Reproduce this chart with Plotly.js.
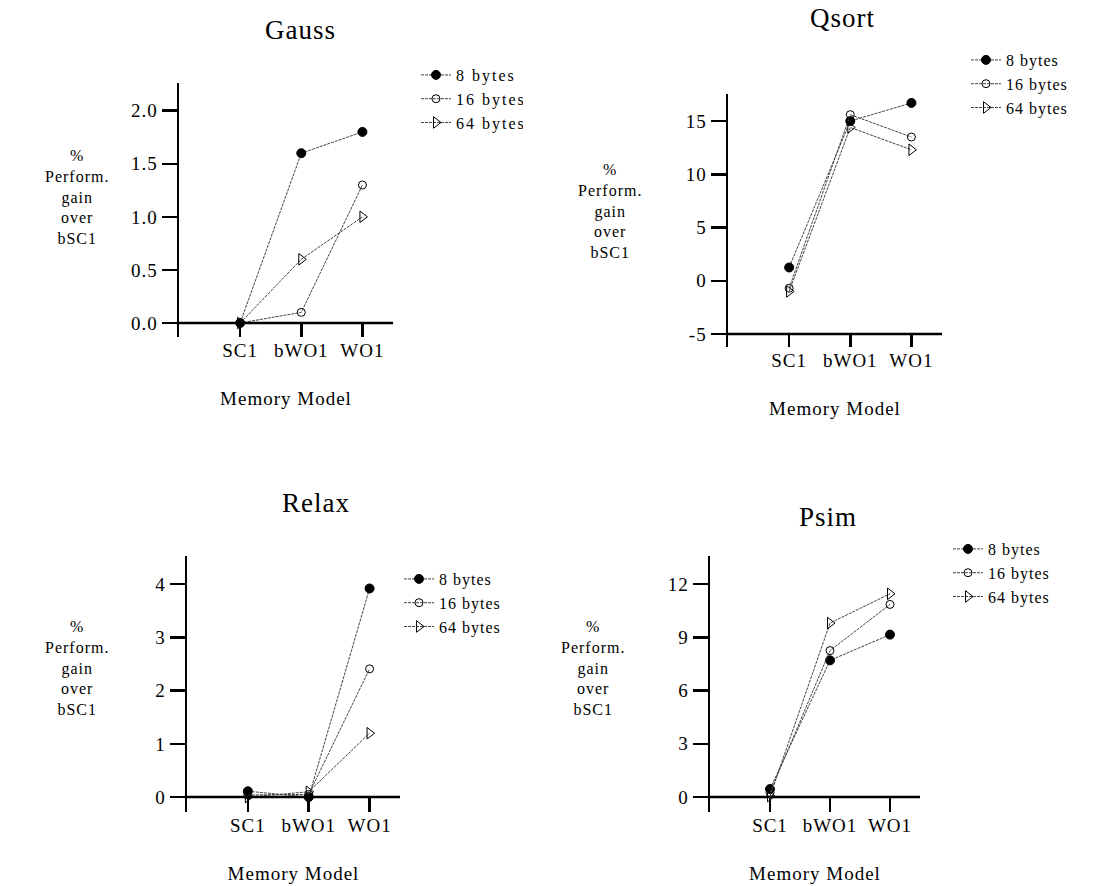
<!DOCTYPE html>
<html>
<head>
<meta charset="utf-8">
<script src="https://cdn.plot.ly/plotly-3.0.1.min.js"></script>
<style>
html,body{margin:0;padding:0;background:#fff;}
#chart{width:1108px;height:886px;}
svg text{letter-spacing:1px;}
.legend text{letter-spacing:2px;}
</style>
</head>
<body>
<div id="chart"></div>
<script>
// ---- data ----
const models = ["SC1", "bWO1", "WO1"];
const seriesNames = ["8 bytes", "16 bytes", "64 bytes"];

const gauss8  = [0.0, 1.6, 1.8];
const gauss16 = [0.0, 0.1, 1.3];
const gauss64 = [0.0, 0.6, 1.0];

const qsort8  = [1.25, 15.0, 16.7];
const qsort16 = [-0.7, 15.6, 13.5];
const qsort64 = [-1.0, 14.4, 12.3];

const relax8  = [0.11, 0.0, 3.92];
const relax16 = [0.04, 0.05, 2.41];
const relax64 = [0.0, 0.1, 1.2];

const psim8  = [0.45, 7.7, 9.15];
const psim16 = [0.25, 8.25, 10.85];
const psim64 = [0.05, 9.8, 11.45];

const gaussTicks = [0, 0.5, 1.0, 1.5, 2.0];
const gaussTickText = ["0.0", "0.5", "1.0", "1.5", "2.0"];
const qsortTicks = [-5, 0, 5, 10, 15];
const qsortTickText = ["-5", "0", "5", "10", "15"];
const relaxTicks = [0, 1, 2, 3, 4];
const relaxTickText = ["0", "1", "2", "3", "4"];
const psimTicks = [0, 3, 6, 9, 12];
const psimTickText = ["0", "3", "6", "9", "12"];

const panelTitles = ["Gauss", "Qsort", "Relax", "Psim"];
const yTitle = "%<br>Perform.<br>gain<br>over<br>bSC1";
const xTitle = "Memory Model";

// ---- layout helpers ----
const W = 1108, H = 886;
const FONT = "Liberation Serif";
const px = v => v / W;
const py = v => 1 - v / H;

const panels = [
  {data:[gauss8,gauss16,gauss64], ticks:gaussTicks, tt:gaussTickText, x0:179, x1:393, top:83, bot:337, yr:[-0.132, 2.261],
   title:[300, 30], ytit:[77, 197], leg:[416, 58]},
  {data:[qsort8,qsort16,qsort64], ticks:qsortTicks, tt:qsortTickText, x0:728, x1:942, top:94, bot:347, yr:[-6.22, 17.54],
   title:[842, 18], ytit:[610, 211], leg:[966, 43]},
  {data:[relax8,relax16,relax64], ticks:relaxTicks, tt:relaxTickText, x0:187, x1:400, top:556, bot:812, yr:[-0.28, 4.53],
   title:[316, 503], ytit:[77, 668], leg:[399, 562]},
  {data:[psim8,psim16,psim64], ticks:psimTicks, tt:psimTickText, x0:710, x1:920, top:556, bot:812, yr:[-0.845, 13.58],
   title:[828, 517], ytit:[593, 668], leg:[948, 532]}
];

const markers = [
  {symbol:"circle", size:9, color:"#000", line:{color:"#000", width:1}},
  {symbol:"circle-open", size:8, color:"#000", line:{color:"#000", width:1}},
  {symbol:"triangle-right-open", size:10, color:"#000", line:{color:"#000", width:1}}
];

const traces = [];
const layout = {
  width: W, height: H,
  margin: {l:0, r:0, t:0, b:0},
  paper_bgcolor: "#fff", plot_bgcolor: "rgba(0,0,0,0)",
  font: {family: FONT, size: 19, color: "#000"},
  showlegend: true,
  annotations: [], shapes: []
};

panels.forEach((p, i) => {
  const n = i + 1;
  const xa = n === 1 ? "x" : "x" + n;
  const ya = n === 1 ? "y" : "y" + n;
  const lg = n === 1 ? "legend" : "legend" + n;
  p.data.forEach((vals, k) => {
    traces.push({
      type: "scatter", mode: "lines+markers",
      x: models, y: vals, name: seriesNames[k],
      xaxis: xa, yaxis: ya, legend: lg,
      line: {color: "#444", width: 1, dash: "3px,1px"},
      marker: markers[k], cliponaxis: false
    });
  });
  layout["xaxis" + (n === 1 ? "" : n)] = {
    domain: [px(p.x0), px(p.x1)], anchor: ya,
    type: "category", range: [-1, 2.5],
    showgrid: false, zeroline: false, showline: false,
    ticks: "inside", ticklen: 14, tickwidth: 2.5, tickcolor: "#000",
    tickfont: {family: FONT, size: 19},
    title: {text: xTitle, font: {family: FONT, size: 19}, standoff: 31},
    fixedrange: true
  };
  layout["yaxis" + (n === 1 ? "" : n)] = {
    domain: [py(p.bot), py(p.top)], anchor: xa,
    range: p.yr, showgrid: false, zeroline: false,
    showline: true, linewidth: 2.5, linecolor: "#000",
    ticks: "outside", ticklen: 15, tickwidth: 2.5, tickcolor: "#000",
    tickmode: "array", tickvals: p.ticks, ticktext: p.tt,
    tickfont: {family: FONT, size: 19},
    fixedrange: true
  };
  layout[lg] = {
    x: px(p.leg[0]), y: py(p.leg[1]), xanchor: "left", yanchor: "top",
    bgcolor: "rgba(0,0,0,0)", borderwidth: 0,
    font: {family: FONT, size: 16}, tracegroupgap: 0
  };
  layout.shapes.push({
    type: "line", xref: xa + " domain", yref: ya,
    x0: 0, x1: 1, y0: p.ticks[0], y1: p.ticks[0],
    line: {color: "#000", width: 2.5}, layer: "above"
  });
  layout.annotations.push({
    xref: "paper", yref: "paper", x: px(p.title[0]), y: py(p.title[1]),
    xanchor: "center", yanchor: "middle", showarrow: false,
    text: panelTitles[i], font: {family: FONT, size: 27}
  });
  layout.annotations.push({
    xref: "paper", yref: "paper", x: px(p.ytit[0]), y: py(p.ytit[1]),
    xanchor: "center", yanchor: "middle", showarrow: false, align: "center",
    text: yTitle, font: {family: FONT, size: 16}
  });
});

Plotly.newPlot("chart", traces, layout, {displayModeBar: false, staticPlot: true});
</script>
</body>
</html>
